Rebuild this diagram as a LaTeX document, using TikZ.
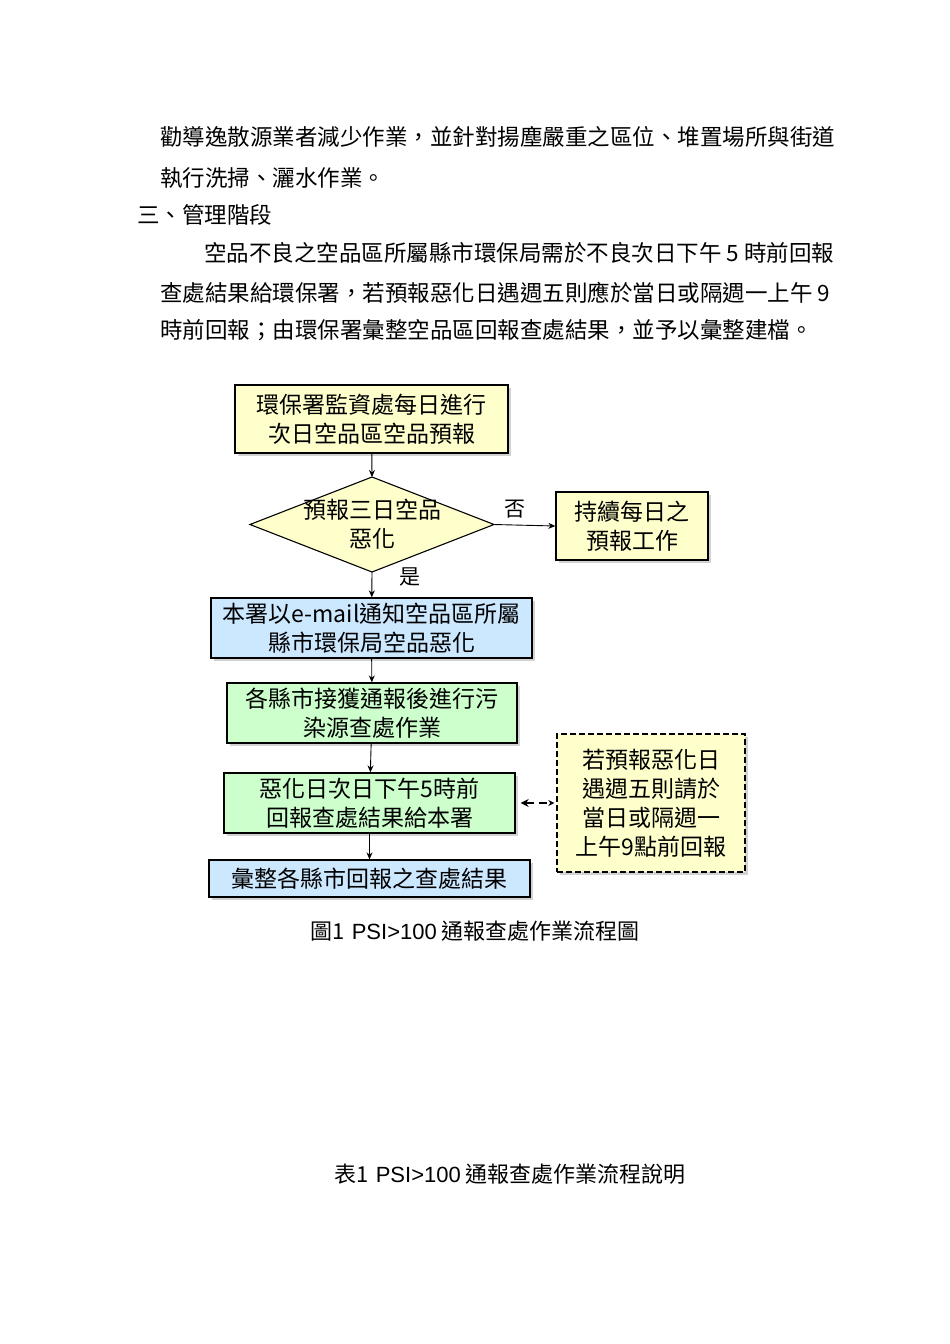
\documentclass[tikz,border=0pt]{standalone}
\usepackage{fontspec}
\setmainfont{Noto Sans CJK TC}
\newfontfamily\latinf{Liberation Sans}
\usetikzlibrary{shapes.geometric,arrows.meta,shadows}
\definecolor{yel}{HTML}{FFFFCC}
\definecolor{blu}{HTML}{CCE8FF}
\definecolor{grn}{HTML}{CCFFCC}
\tikzset{x=1pt,y=-1pt,
 para/.style={anchor=west,inner sep=0,font=\fontsize{22.5}{24}\selectfont},
 box/.style={draw,line width=1.3pt,align=center,inner sep=0,font=\fontsize{23}{29}\selectfont,
   drop shadow={shadow xshift=3pt,shadow yshift=-3pt,fill=gray!70}},
 arr/.style={-{Stealth[length=7pt,width=6pt]},line width=0.9pt}}
\begin{document}
\begin{tikzpicture}
\useasboundingbox (0,0) rectangle (950,1344);
\node[para] (p1) at (160,137) {勸導逸散源業者減少作業，並針對揚塵嚴重之區位、堆置場所與街道};
\node[para] (p2) at (160,178) {執行洗掃、灑水作業。};
\node[para] (p3) at (137,215) {三、管理階段};
\node[para] (p4) at (204,253) {空品不良之空品區所屬縣市環保局需於不良次日下午 5 時前回報};
\node[para] (p5) at (160,293) {查處結果給環保署，若預報惡化日遇週五則應於當日或隔週一上午 9};
\node[para] (p6) at (160,330) {時前回報；由環保署彙整空品區回報查處結果，並予以彙整建檔。};

\node[box,fill=yel,minimum width=273pt,minimum height=68pt] (b1) at (371.5,419) {環保署監資處每日進行\\次日空品區空品預報};
\coordinate (dt) at (372,477); \coordinate (db) at (372,572);
\coordinate (dl) at (250,524.5); \coordinate (dr) at (494,524.5);
\draw[line width=1.1pt,fill=yel] (dt) -- (dr) -- (db) -- (dl) -- cycle;
\node[align=center,inner sep=0,font=\fontsize{23}{29}\selectfont] (d) at (372,524.5) {預報三日空品\\惡化};
\node[box,fill=yel,minimum width=152pt,minimum height=68pt] (no) at (632,526) {持續每日之\\預報工作};
\node[box,fill=blu,minimum width=321pt,minimum height=60pt] (b3) at (371.5,628) {本署以e-mail通知空品區所屬\\縣市環保局空品惡化};
\node[box,fill=grn,minimum width=290pt,minimum height=60pt] (b4) at (372,713) {各縣市接獲通報後進行污\\染源查處作業};
\node[box,fill=grn,minimum width=291pt,minimum height=60pt] (b5) at (369.5,803) {惡化日次日下午5時前\\回報查處結果給本署};
\node[box,fill=yel,dash pattern=on 6pt off 3pt,minimum width=188pt,minimum height=138pt] (dn) at (651,803) {若預報惡化日\\遇週五則請於\\當日或隔週一\\上午9點前回報};
\node[box,fill=blu,minimum width=321pt,minimum height=37pt] (b6) at (369.5,878.5) {彙整各縣市回報之查處結果};

\draw[arr] (b1) -- (dt);
\draw[arr] (dr) -- (no.west) node[pos=0.35,above=3pt,font=\fontsize{21}{24}\selectfont] (nl) {否};
\draw[arr] (db) -- (b3) node[pos=0.2,right=24pt,font=\fontsize{21}{24}\selectfont] (yl) {是};
\draw[arr] (b3) -- (b4);
\draw[arr] (b4) -- (b5);
\draw[arr] (b5) -- (b6);
\draw[{Stealth[length=8pt,width=8pt]}-{Stealth[length=6pt,width=6pt]},line width=1.6pt,dash pattern=on 8pt off 5pt] ([xshift=5pt]b5.east) coordinate (c1) -- ([xshift=-2pt]dn.west);
\node[font=\fontsize{22}{26}\selectfont] (cap1) at (475,931) {圖1\,\,{\latinf PSI>100} 通報查處作業流程圖};
\node[font=\fontsize{22}{26}\selectfont] (cap2) at (510,1174) {表1\,\,{\latinf PSI>100} 通報查處作業流程說明};
\end{tikzpicture}
\end{document}
